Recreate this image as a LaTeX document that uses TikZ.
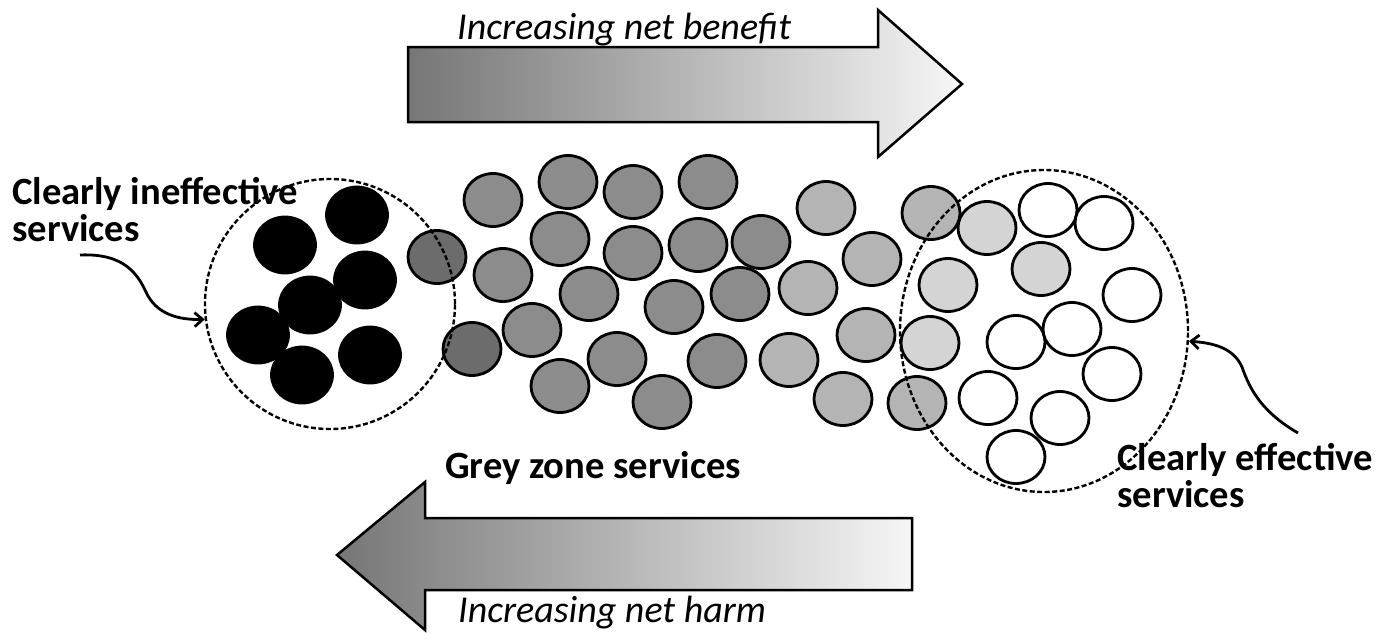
\documentclass[tikz,border=0pt]{standalone}
\usepackage{fontspec}
\setmainfont{Carlito}
\usetikzlibrary{shapes.geometric,arrows.meta}
\definecolor{dkg}{RGB}{108,108,108}
\definecolor{mdg}{RGB}{140,140,140}
\definecolor{ltg}{RGB}{180,180,180}
\definecolor{plg}{RGB}{212,212,212}
\definecolor{shdark}{RGB}{118,118,118}
\definecolor{shlight}{RGB}{246,246,246}
\begin{document}
\begin{tikzpicture}[x=1pt,y=-1pt,
  ball/.style={ellipse,draw=black,line width=2.8pt,minimum width=58pt,minimum height=53pt,inner sep=0pt},
  blackball/.style={ball,fill=black,minimum width=61pt,minimum height=56pt},
  dkball/.style={ball,fill=dkg},
  mdball/.style={ball,fill=mdg},
  ltball/.style={ball,fill=ltg},
  plball/.style={ball,fill=plg},
  wball/.style={ball,fill=white},
  zone/.style={ellipse,draw=black,dash pattern=on 5pt off 2.5pt,line width=2.4pt,inner sep=0pt},
  lbl/.style={font=\fontsize{38.6}{37}\selectfont\bfseries,inner sep=0pt,align=left},
  ital/.style={font=\fontsize{38}{38}\selectfont\itshape,inner sep=0pt},
  bigarrow/.style={draw=black,line width=2.5pt,line join=miter,left color=shdark,right color=shlight},
  curly/.style={line width=2.8pt,-{Straight Barb[length=8pt,width=14pt]}}
]
\useasboundingbox (0,0) rectangle (1379,641);
% big arrows
\shadedraw[bigarrow] (408,47) -- (878,47) -- (878,10) -- (962,84) -- (878,157) -- (878,122) -- (408,122) -- cycle;
\shadedraw[bigarrow] (912,518) -- (425,518) -- (425,482) -- (337,555) -- (425,630) -- (425,590) -- (912,590) -- cycle;
% black balls
\foreach \p [count=\i] in {(285,245),(357,215),(365,280),(310,305),(258,335),(370,355),(302,375)}
  \node[blackball] (b\i) at \p {};
% dark grey
\foreach \p [count=\i] in {(437,257),(472,349)}
  \node[dkball] (d\i) at \p {};
% mid grey
\foreach \p [count=\i] in {(493,200),(568,182),(633,192),(708,182),(560,239),(633,253),(698,245),(761,242),(503,275),(589,294),(674,307),(740,294),(532,330),(617,359),(560,386),(662,402),(717,361)}
  \node[mdball] (m\i) at \p {};
% light grey
\foreach \p [count=\i] in {(826,208),(872,259),(808,288),(866,335),(789,360),(843,399),(931,213),(917,403)}
  \node[ltball] (l\i) at \p {};
% pale grey
\foreach \p [count=\i] in {(987,228),(948,285),(1041,269),(930,343)}
  \node[plball] (p\i) at \p {};
% white
\foreach \p [count=\i] in {(1048,210),(1104,223),(1132,295),(1016,342),(1072,329),(1112,374),(988,398),(1060,418),(1016,457)}
  \node[wball] (w\i) at \p {};
% zones
\node[zone,minimum width=250pt,minimum height=250pt] (ineff) at (330,304) {};
\node[zone,minimum width=288pt,minimum height=322pt] (eff) at (1044,331) {};
% labels
\node[ital,anchor=base west] (benefit) at (457,39) {Increasing net benefit};
\node[ital,anchor=base west] (harm) at (458,622) {Increasing net harm};
\node[lbl,anchor=base west] (grey) at (445,478) {Grey zone services};
\node[lbl,anchor=north west] (inefflbl) at (12,177) {Clearly ineffective\\services};
\node[lbl,anchor=north west] (efflbl) at (1117,443) {Clearly effective\\services};
% curly connectors
\coordinate (s1) at (80,255);
\coordinate (s2) at (1298,433);
\draw[curly] (s1) .. controls (125,253) and (138,275) .. (146,292) .. controls (156,314) and (178,320) .. (ineff.187);
\draw[curly] (s2) .. controls (1262,412) and (1250,390) .. (1242,367) .. controls (1233,347) and (1212,343) .. (eff.-4);
\end{tikzpicture}
\end{document}
